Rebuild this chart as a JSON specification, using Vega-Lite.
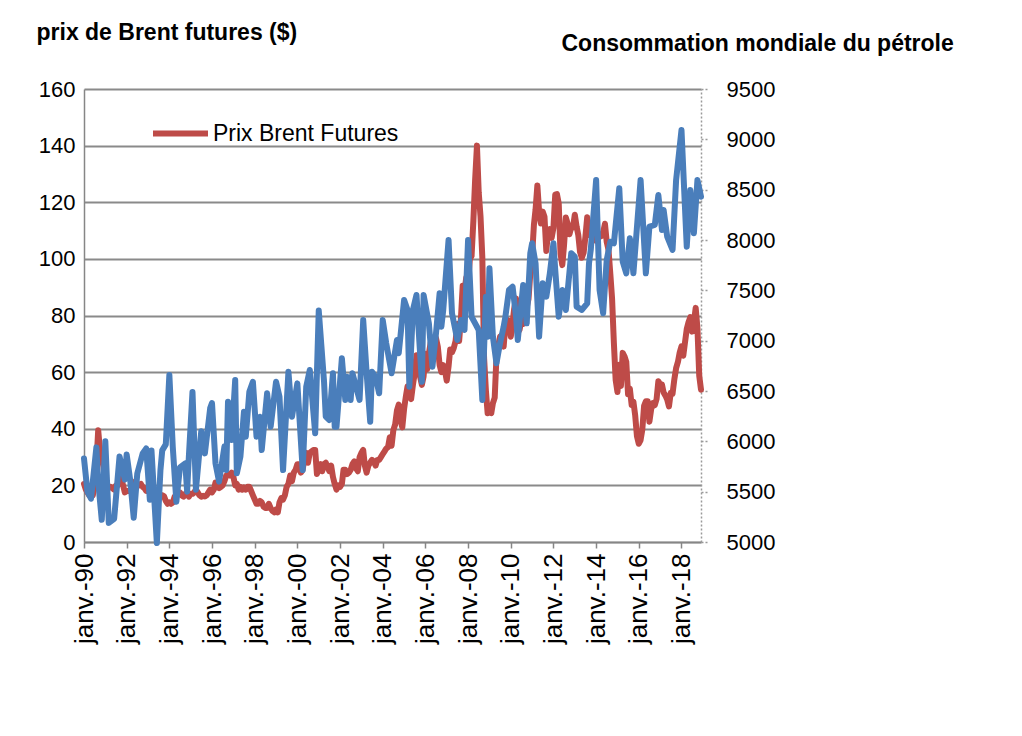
{
  "$schema": "https://vega.github.io/schema/vega-lite/v6.json",
  "width": 617,
  "height": 453,
  "autosize": {"type": "none"},
  "padding": {"left": 84, "top": 89, "right": 321, "bottom": 194},
  "background": "white",
  "config": {
    "view": {"stroke": null},
    "font": "Liberation Sans",
    "axis": {"labelColor": "black", "labelFont": "Liberation Sans", "titleFont": "Liberation Sans", "titleColor": "black"}
  },
  "datasets": {
    "brent": [
      {"d":"1990-01","p":20.5},{"d":"1990-02","p":18.5},{"d":"1990-03","p":17.5},{"d":"1990-04","p":16.5},{"d":"1990-05","p":16.0},{"d":"1990-06","p":16.5},{"d":"1990-07","p":20.5},{"d":"1990-08","p":27.5},{"d":"1990-09","p":39.5},{"d":"1990-10","p":32.5},{"d":"1990-11","p":29.5},{"d":"1990-12","p":26.5},
      {"d":"1991-01","p":20.0},{"d":"1991-02","p":18.5},{"d":"1991-03","p":19.5},{"d":"1991-04","p":19.5},{"d":"1991-05","p":19.0},{"d":"1991-06","p":18.5},{"d":"1991-07","p":20.0},{"d":"1991-08","p":20.0},{"d":"1991-09","p":21.5},{"d":"1991-10","p":22.5},{"d":"1991-11","p":20.0},{"d":"1991-12","p":17.5},
      {"d":"1992-01","p":18.0},{"d":"1992-02","p":18.0},{"d":"1992-03","p":18.2},{"d":"1992-04","p":19.5},{"d":"1992-05","p":20.5},{"d":"1992-06","p":21.5},{"d":"1992-07","p":20.0},{"d":"1992-08","p":20.0},{"d":"1992-09","p":20.5},{"d":"1992-10","p":19.5},{"d":"1992-11","p":19.0},{"d":"1992-12","p":18.0},
      {"d":"1993-01","p":18.2},{"d":"1993-02","p":18.6},{"d":"1993-03","p":18.7},{"d":"1993-04","p":18.6},{"d":"1993-05","p":18.0},{"d":"1993-06","p":17.0},{"d":"1993-07","p":16.8},{"d":"1993-08","p":16.7},{"d":"1993-09","p":16.5},{"d":"1993-10","p":16.2},{"d":"1993-11","p":14.5},{"d":"1993-12","p":13.5},
      {"d":"1994-01","p":14.0},{"d":"1994-02","p":13.5},{"d":"1994-03","p":14.0},{"d":"1994-04","p":16.0},{"d":"1994-05","p":16.5},{"d":"1994-06","p":17.5},{"d":"1994-07","p":17.5},{"d":"1994-08","p":16.5},{"d":"1994-09","p":16.0},{"d":"1994-10","p":17.0},{"d":"1994-11","p":17.5},{"d":"1994-12","p":16.0},
      {"d":"1995-01","p":17.0},{"d":"1995-02","p":17.0},{"d":"1995-03","p":17.5},{"d":"1995-04","p":18.5},{"d":"1995-05","p":17.5},{"d":"1995-06","p":16.5},{"d":"1995-07","p":16.0},{"d":"1995-08","p":16.3},{"d":"1995-09","p":16.1},{"d":"1995-10","p":16.5},{"d":"1995-11","p":17.5},{"d":"1995-12","p":18.5},
      {"d":"1996-01","p":17.5},{"d":"1996-02","p":18.5},{"d":"1996-03","p":21.0},{"d":"1996-04","p":19.5},{"d":"1996-05","p":19.0},{"d":"1996-06","p":19.5},{"d":"1996-07","p":20.0},{"d":"1996-08","p":21.5},{"d":"1996-09","p":23.5},{"d":"1996-10","p":24.0},{"d":"1996-11","p":23.5},{"d":"1996-12","p":24.5},
      {"d":"1997-01","p":23.0},{"d":"1997-02","p":20.0},{"d":"1997-03","p":20.5},{"d":"1997-04","p":18.5},{"d":"1997-05","p":19.5},{"d":"1997-06","p":18.5},{"d":"1997-07","p":19.3},{"d":"1997-08","p":18.5},{"d":"1997-09","p":19.5},{"d":"1997-10","p":19.5},{"d":"1997-11","p":18.0},{"d":"1997-12","p":16.5},
      {"d":"1998-01","p":15.0},{"d":"1998-02","p":13.5},{"d":"1998-03","p":13.5},{"d":"1998-04","p":14.5},{"d":"1998-05","p":14.0},{"d":"1998-06","p":12.5},{"d":"1998-07","p":12.0},{"d":"1998-08","p":12.0},{"d":"1998-09","p":13.5},{"d":"1998-10","p":12.0},{"d":"1998-11","p":11.0},{"d":"1998-12","p":10.5},
      {"d":"1999-01","p":11.5},{"d":"1999-02","p":10.5},{"d":"1999-03","p":14.0},{"d":"1999-04","p":15.5},{"d":"1999-05","p":15.0},{"d":"1999-06","p":16.5},{"d":"1999-07","p":19.5},{"d":"1999-08","p":20.5},{"d":"1999-09","p":23.5},{"d":"1999-10","p":21.5},{"d":"1999-11","p":24.5},{"d":"1999-12","p":25.5},
      {"d":"2000-01","p":27.5},{"d":"2000-02","p":27.5},{"d":"2000-03","p":24.5},{"d":"2000-04","p":25.5},{"d":"2000-05","p":29.5},{"d":"2000-06","p":31.5},{"d":"2000-07","p":28.0},{"d":"2000-08","p":31.5},{"d":"2000-09","p":32.0},{"d":"2000-10","p":32.5},{"d":"2000-11","p":32.5},{"d":"2000-12","p":24.0},
      {"d":"2001-01","p":26.5},{"d":"2001-02","p":27.5},{"d":"2001-03","p":25.0},{"d":"2001-04","p":27.5},{"d":"2001-05","p":28.0},{"d":"2001-06","p":26.5},{"d":"2001-07","p":25.0},{"d":"2001-08","p":27.0},{"d":"2001-09","p":23.0},{"d":"2001-10","p":20.5},{"d":"2001-11","p":18.5},{"d":"2001-12","p":20.0},
      {"d":"2002-01","p":19.5},{"d":"2002-02","p":20.5},{"d":"2002-03","p":25.5},{"d":"2002-04","p":25.5},{"d":"2002-05","p":24.0},{"d":"2002-06","p":24.5},{"d":"2002-07","p":25.5},{"d":"2002-08","p":27.5},{"d":"2002-09","p":28.5},{"d":"2002-10","p":26.0},{"d":"2002-11","p":25.0},{"d":"2002-12","p":30.0},
      {"d":"2003-01","p":31.5},{"d":"2003-02","p":32.5},{"d":"2003-03","p":27.0},{"d":"2003-04","p":24.5},{"d":"2003-05","p":27.0},{"d":"2003-06","p":28.0},{"d":"2003-07","p":29.0},{"d":"2003-08","p":28.5},{"d":"2003-09","p":27.0},{"d":"2003-10","p":29.0},{"d":"2003-11","p":29.0},{"d":"2003-12","p":30.0},
      {"d":"2004-01","p":31.0},{"d":"2004-02","p":32.0},{"d":"2004-03","p":33.0},{"d":"2004-04","p":33.5},{"d":"2004-05","p":37.0},{"d":"2004-06","p":34.0},{"d":"2004-07","p":39.5},{"d":"2004-08","p":41.5},{"d":"2004-09","p":46.5},{"d":"2004-10","p":48.5},{"d":"2004-11","p":43.0},{"d":"2004-12","p":40.5},
      {"d":"2005-01","p":47.0},{"d":"2005-02","p":51.5},{"d":"2005-03","p":55.0},{"d":"2005-04","p":51.5},{"d":"2005-05","p":50.5},{"d":"2005-06","p":55.5},{"d":"2005-07","p":59.5},{"d":"2005-08","p":66.0},{"d":"2005-09","p":62.5},{"d":"2005-10","p":58.5},{"d":"2005-11","p":55.5},{"d":"2005-12","p":58.5},
      {"d":"2006-01","p":66.5},{"d":"2006-02","p":61.0},{"d":"2006-03","p":66.5},{"d":"2006-04","p":70.5},{"d":"2006-05","p":69.5},{"d":"2006-06","p":71.0},{"d":"2006-07","p":72.0},{"d":"2006-08","p":69.0},{"d":"2006-09","p":62.5},{"d":"2006-10","p":60.0},{"d":"2006-11","p":62.5},{"d":"2006-12","p":60.5},
      {"d":"2007-01","p":57.0},{"d":"2007-02","p":62.0},{"d":"2007-03","p":68.0},{"d":"2007-04","p":67.0},{"d":"2007-05","p":68.5},{"d":"2007-06","p":71.0},{"d":"2007-07","p":77.0},{"d":"2007-08","p":71.0},{"d":"2007-09","p":79.0},{"d":"2007-10","p":90.5},{"d":"2007-11","p":88.5},{"d":"2007-12","p":93.5},
      {"d":"2008-01","p":91.5},{"d":"2008-02","p":100.0},{"d":"2008-03","p":101.0},{"d":"2008-04","p":113.5},{"d":"2008-05","p":128.0},{"d":"2008-06","p":140.0},{"d":"2008-07","p":123.5},{"d":"2008-08","p":115.0},{"d":"2008-09","p":100.5},{"d":"2008-10","p":65.0},{"d":"2008-11","p":53.5},{"d":"2008-12","p":45.5},
      {"d":"2009-01","p":46.0},{"d":"2009-02","p":45.5},{"d":"2009-03","p":49.0},{"d":"2009-04","p":51.0},{"d":"2009-05","p":65.5},{"d":"2009-06","p":69.5},{"d":"2009-07","p":72.5},{"d":"2009-08","p":73.0},{"d":"2009-09","p":69.0},{"d":"2009-10","p":77.0},{"d":"2009-11","p":78.5},{"d":"2009-12","p":78.0},
      {"d":"2010-01","p":72.5},{"d":"2010-02","p":77.5},{"d":"2010-03","p":82.5},{"d":"2010-04","p":86.0},{"d":"2010-05","p":74.0},{"d":"2010-06","p":75.0},{"d":"2010-07","p":78.5},{"d":"2010-08","p":77.0},{"d":"2010-09","p":82.3},{"d":"2010-10","p":83.0},{"d":"2010-11","p":85.9},{"d":"2010-12","p":94.8},
      {"d":"2011-01","p":101.0},{"d":"2011-02","p":112.0},{"d":"2011-03","p":117.4},{"d":"2011-04","p":125.9},{"d":"2011-05","p":116.7},{"d":"2011-06","p":112.5},{"d":"2011-07","p":116.7},{"d":"2011-08","p":114.9},{"d":"2011-09","p":102.8},{"d":"2011-10","p":109.6},{"d":"2011-11","p":110.5},{"d":"2011-12","p":107.4},
      {"d":"2012-01","p":110.9},{"d":"2012-02","p":122.7},{"d":"2012-03","p":122.9},{"d":"2012-04","p":119.5},{"d":"2012-05","p":101.9},{"d":"2012-06","p":97.8},{"d":"2012-07","p":104.9},{"d":"2012-08","p":114.6},{"d":"2012-09","p":112.4},{"d":"2012-10","p":108.7},{"d":"2012-11","p":111.2},{"d":"2012-12","p":111.1},
      {"d":"2013-01","p":115.6},{"d":"2013-02","p":111.4},{"d":"2013-03","p":108.5},{"d":"2013-04","p":102.4},{"d":"2013-05","p":100.4},{"d":"2013-06","p":102.2},{"d":"2013-07","p":107.7},{"d":"2013-08","p":114.7},{"d":"2013-09","p":108.4},{"d":"2013-10","p":108.8},{"d":"2013-11","p":110.8},{"d":"2013-12","p":110.8},
      {"d":"2014-01","p":106.4},{"d":"2014-02","p":109.1},{"d":"2014-03","p":107.8},{"d":"2014-04","p":108.1},{"d":"2014-05","p":109.4},{"d":"2014-06","p":112.4},{"d":"2014-07","p":106.0},{"d":"2014-08","p":103.2},{"d":"2014-09","p":94.7},{"d":"2014-10","p":85.9},{"d":"2014-11","p":70.2},{"d":"2014-12","p":57.3},
      {"d":"2015-01","p":53.0},{"d":"2015-02","p":62.6},{"d":"2015-03","p":55.1},{"d":"2015-04","p":66.8},{"d":"2015-05","p":65.6},{"d":"2015-06","p":63.6},{"d":"2015-07","p":52.2},{"d":"2015-08","p":54.2},{"d":"2015-09","p":48.4},{"d":"2015-10","p":49.6},{"d":"2015-11","p":44.6},{"d":"2015-12","p":37.3},
      {"d":"2016-01","p":34.7},{"d":"2016-02","p":36.0},{"d":"2016-03","p":39.6},{"d":"2016-04","p":48.1},{"d":"2016-05","p":49.7},{"d":"2016-06","p":49.7},{"d":"2016-07","p":42.5},{"d":"2016-08","p":47.0},{"d":"2016-09","p":49.1},{"d":"2016-10","p":48.3},{"d":"2016-11","p":50.5},{"d":"2016-12","p":56.8},
      {"d":"2017-01","p":55.7},{"d":"2017-02","p":55.6},{"d":"2017-03","p":52.8},{"d":"2017-04","p":51.7},{"d":"2017-05","p":50.3},{"d":"2017-06","p":47.9},{"d":"2017-07","p":52.7},{"d":"2017-08","p":52.4},{"d":"2017-09","p":57.5},{"d":"2017-10","p":61.4},{"d":"2017-11","p":63.6},{"d":"2017-12","p":66.9},
      {"d":"2018-01","p":69.1},{"d":"2018-02","p":65.8},{"d":"2018-03","p":70.3},{"d":"2018-04","p":75.2},{"d":"2018-05","p":77.6},{"d":"2018-06","p":79.4},{"d":"2018-07","p":74.3},{"d":"2018-08","p":77.4},{"d":"2018-09","p":82.7},{"d":"2018-10","p":75.5},{"d":"2018-11","p":58.7},{"d":"2018-12","p":53.8}
    ],
    "conso": [
      {"d":"1990-01","v":5830},{"d":"1990-03","v":5500},{"d":"1990-05","v":5430},{"d":"1990-08","v":5940},{"d":"1990-09","v":5600},{"d":"1990-11","v":5220},
      {"d":"1991-01","v":6000},{"d":"1991-03","v":5190},{"d":"1991-06","v":5230},{"d":"1991-09","v":5850},{"d":"1991-12","v":5620},
      {"d":"1992-01","v":5870},{"d":"1992-03","v":5620},{"d":"1992-05","v":5240},{"d":"1992-07","v":5680},{"d":"1992-10","v":5880},{"d":"1992-12","v":5930},
      {"d":"1993-02","v":5420},{"d":"1993-03","v":5910},{"d":"1993-06","v":4990},{"d":"1993-08","v":5710},{"d":"1993-09","v":5910},{"d":"1993-11","v":5970},
      {"d":"1994-01","v":6660},{"d":"1994-03","v":5940},{"d":"1994-05","v":5400},{"d":"1994-07","v":5740},{"d":"1994-10","v":5780},{"d":"1994-11","v":5500},{"d":"1994-12","v":5850},
      {"d":"1995-02","v":6490},{"d":"1995-04","v":5520},{"d":"1995-07","v":6100},{"d":"1995-09","v":5880},{"d":"1995-12","v":6330},
      {"d":"1996-01","v":6380},{"d":"1996-03","v":5780},{"d":"1996-05","v":5600},{"d":"1996-08","v":5950},{"d":"1996-09","v":5715},{"d":"1996-10","v":6394},{"d":"1996-12","v":6013},
      {"d":"1997-02","v":6609},{"d":"1997-03","v":5682},{"d":"1997-05","v":5847},{"d":"1997-07","v":6294},{"d":"1997-08","v":6046},{"d":"1997-10","v":6493},{"d":"1997-12","v":6592},
      {"d":"1998-02","v":6046},{"d":"1998-04","v":6245},{"d":"1998-05","v":5914},{"d":"1998-08","v":6477},{"d":"1998-10","v":6145},
      {"d":"1999-01","v":6592},{"d":"1999-03","v":6443},{"d":"1999-05","v":5715},{"d":"1999-08","v":6692},{"d":"1999-10","v":6245},
      {"d":"2000-01","v":6576},{"d":"2000-04","v":5715},{"d":"2000-06","v":6543},{"d":"2000-08","v":6709},{"d":"2000-11","v":6080},
      {"d":"2001-01","v":7300},{"d":"2001-04","v":6600},{"d":"2001-05","v":6245},{"d":"2001-07","v":6212},{"d":"2001-09","v":6676},{"d":"2001-10","v":6145},{"d":"2001-11","v":6145},
      {"d":"2002-02","v":6825},{"d":"2002-04","v":6411},{"d":"2002-05","v":6642},{"d":"2002-07","v":6411},{"d":"2002-08","v":6676},{"d":"2002-10","v":6543},{"d":"2002-12","v":6411},
      {"d":"2003-02","v":7205},{"d":"2003-04","v":6676},{"d":"2003-06","v":6195},{"d":"2003-07","v":6692},{"d":"2003-09","v":6642},{"d":"2003-11","v":6477},
      {"d":"2004-01","v":7205},{"d":"2004-03","v":6974},{"d":"2004-06","v":6676},{"d":"2004-09","v":7007},{"d":"2004-10","v":6875},
      {"d":"2005-01","v":7404},{"d":"2005-03","v":7305},{"d":"2005-04","v":6543},{"d":"2005-06","v":7305},{"d":"2005-08","v":7454},{"d":"2005-11","v":6592},{"d":"2005-12","v":7454},
      {"d":"2006-03","v":7172},{"d":"2006-05","v":6742},{"d":"2006-07","v":7073},{"d":"2006-09","v":7470},{"d":"2006-10","v":7139},{"d":"2006-11","v":7300},
      {"d":"2007-02","v":8000},{"d":"2007-04","v":7272},{"d":"2007-07","v":7007},{"d":"2007-09","v":7205},{"d":"2007-11","v":7106},
      {"d":"2008-01","v":8000},{"d":"2008-03","v":7238},{"d":"2008-05","v":7172},{"d":"2008-07","v":7106},{"d":"2008-09","v":6411},{"d":"2008-11","v":7437},{"d":"2008-12","v":7040},
      {"d":"2009-01","v":7719},{"d":"2009-03","v":7040},{"d":"2009-05","v":6775},{"d":"2009-07","v":6974},{"d":"2009-09","v":7139},{"d":"2009-10","v":7238},{"d":"2009-12","v":7503},
      {"d":"2010-02","v":7536},{"d":"2010-04","v":7238},{"d":"2010-05","v":7007},{"d":"2010-08","v":7553},{"d":"2010-10","v":7172},{"d":"2010-12","v":7868},
      {"d":"2011-01","v":7967},{"d":"2011-03","v":7769},{"d":"2011-05","v":7040},{"d":"2011-07","v":7570},{"d":"2011-09","v":7437},{"d":"2011-11","v":7669},
      {"d":"2012-01","v":7967},{"d":"2012-02","v":7702},{"d":"2012-04","v":7238},{"d":"2012-06","v":7503},{"d":"2012-08","v":7305},{"d":"2012-11","v":7868},
      {"d":"2013-01","v":7835},{"d":"2013-02","v":7338},{"d":"2013-05","v":7305},{"d":"2013-08","v":7371},{"d":"2013-09","v":7769},{"d":"2013-10","v":7901},
      {"d":"2014-01","v":8596},{"d":"2014-03","v":7503},{"d":"2014-05","v":7272},{"d":"2014-07","v":7801},{"d":"2014-09","v":7983},{"d":"2014-11","v":7967},
      {"d":"2015-02","v":8514},{"d":"2015-04","v":7785},{"d":"2015-06","v":7669},{"d":"2015-08","v":8017},{"d":"2015-10","v":7669},
      {"d":"2016-02","v":8596},{"d":"2016-05","v":7669},{"d":"2016-07","v":8133},{"d":"2016-10","v":8149},{"d":"2016-12","v":8447},
      {"d":"2017-02","v":8100},{"d":"2017-03","v":8298},{"d":"2017-05","v":8033},{"d":"2017-08","v":7901},{"d":"2017-10","v":8596},
      {"d":"2018-01","v":9093},{"d":"2018-03","v":8331},{"d":"2018-04","v":7934},{"d":"2018-06","v":8497},{"d":"2018-08","v":8066},{"d":"2018-10","v":8596},{"d":"2018-12","v":8430}
    ]
  },
  "layer": [
    {
      "data": {"name": "brent"},
      "mark": {"type": "line", "strokeWidth": 6, "strokeJoin": "round", "strokeCap": "round"},
      "encoding": {
        "x": {
          "field": "d", "type": "temporal",
          "scale": {"type": "utc", "domain": [{"year": 1990, "month": 1, "date": 1, "utc": true}, {"year": 2018, "month": 12, "date": 1, "utc": true}]},
          "axis": {
            "title": null, "grid": false,
            "tickCount": {"interval": "year", "step": 2},
            "labelExpr": "'janv.-' + utcFormat(datum.value, '%y')",
            "labelAngle": -90, "labelAlign": "right", "labelBaseline": "middle",
            "labelFontSize": 26, "labelPadding": 5, "labelFlush": false, "labelOverlap": false,
            "domainColor": "#868686", "domainWidth": 1.5,
            "tickColor": "#868686", "tickWidth": 1.5, "tickSize": 6
          }
        },
        "y": {
          "field": "p", "type": "quantitative",
          "scale": {"domain": [0, 160], "nice": false},
          "axis": {
            "orient": "left", "values": [0,20,40,60,80,100,120,140,160],
            "title": "prix de Brent futures ($)", "titleAngle": 0, "titleAlign": "left", "titleBaseline": "middle",
            "titleX": -48, "titleY": -57, "titleFontSize": 23, "titleFontWeight": "bold",
            "labelFontSize": 22, "labelPadding": 9, "ticks": false,
            "domainColor": "#868686", "domainWidth": 1.5,
            "grid": true, "gridColor": "#8a8a8a", "gridWidth": 2
          }
        },
        "color": {
          "datum": "Prix Brent Futures",
          "scale": {"range": ["#BE4B48"]},
          "legend": {
            "orient": "none", "legendX": 66, "legendY": 14, "title": null, "padding": 0,
            "symbolType": "stroke", "symbolSize": 3025, "symbolStrokeWidth": 6,
            "labelFontSize": 23, "labelOffset": 2, "labelLimit": 400, "labelColor": "black", "labelFont": "Liberation Sans"
          }
        }
      }
    },
    {
      "data": {"name": "conso"},
      "mark": {"type": "line", "strokeWidth": 6, "strokeJoin": "round", "strokeCap": "round", "color": "#4A7EBB"},
      "encoding": {
        "x": {"field": "d", "type": "temporal"},
        "y": {
          "field": "v", "type": "quantitative",
          "scale": {"domain": [5000, 9500], "nice": false, "zero": false},
          "axis": {
            "orient": "right", "values": [5000,5500,6000,6500,7000,7500,8000,8500,9000,9500], "format": "d",
            "title": "Consommation mondiale du pétrole", "titleAngle": 0, "titleAlign": "left", "titleBaseline": "middle",
            "titleX": -140, "titleY": -46, "titleFontSize": 23, "titleFontWeight": "bold",
            "labelFontSize": 22, "labelPadding": 18, "grid": false,
            "domainColor": "#9a9a9a", "domainWidth": 1.5, "domainDash": [2, 2],
            "tickColor": "#9a9a9a", "tickWidth": 1.5, "tickSize": 7, "tickDash": [2, 2]
          }
        }
      }
    }
  ],
  "resolve": {"scale": {"y": "independent"}}
}
